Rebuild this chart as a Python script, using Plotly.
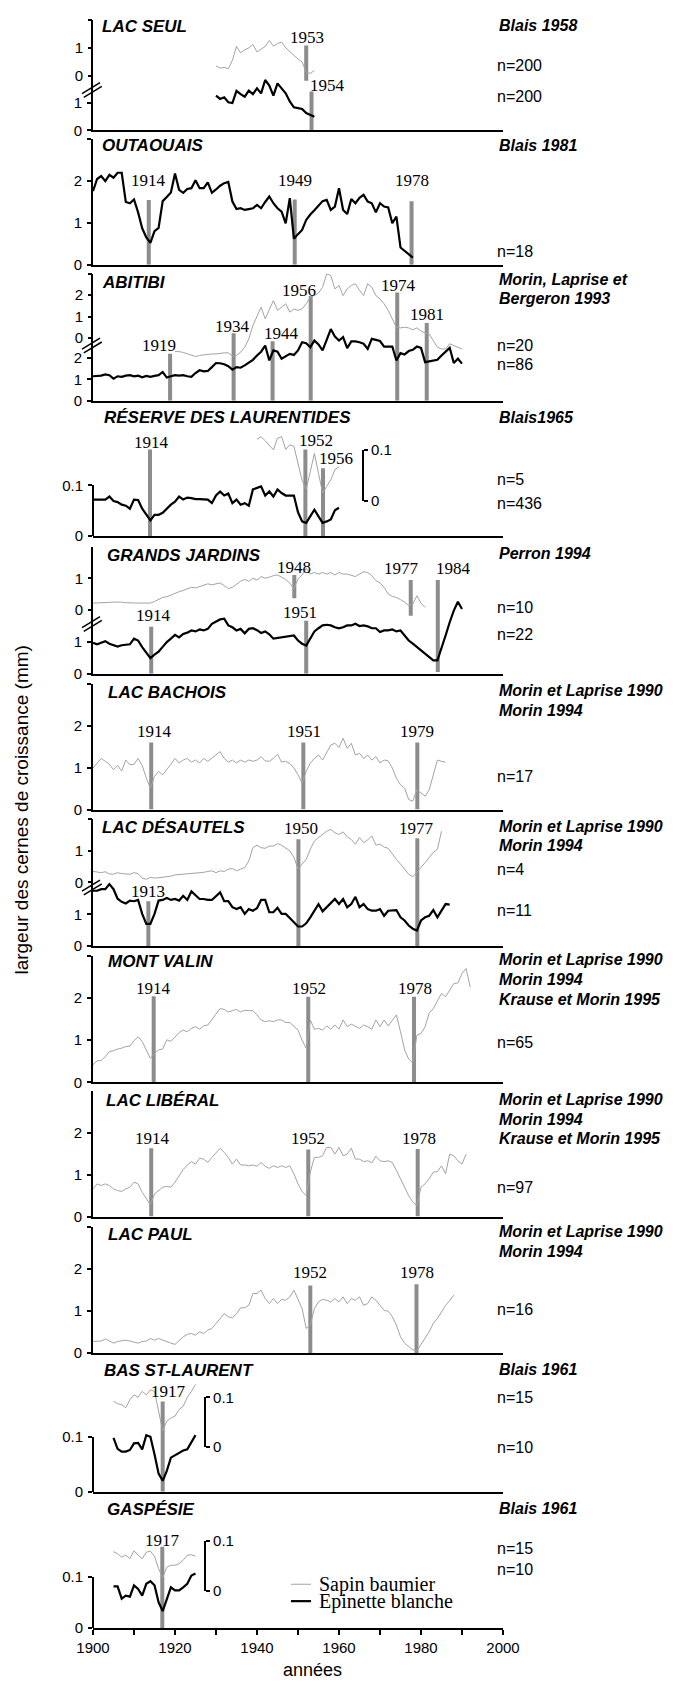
import plotly.graph_objects as go

# ------------------------------------------------------------------ data
seul_years = list(range(1930, 1955))
seul_sapin = [0.35, 0.27, 0.30, 0.25, 0.55, 1.05, 0.82, 0.93, 1.00, 1.12, 0.85, 0.95, 1.05, 1.26, 1.06,
              1.15, 1.21, 1.00, 0.85, 0.73, 0.60, 0.49, 0.13, 0.08, 0.19]
seul_epinette = [1.25, 1.13, 1.19, 1.01, 0.98, 1.42, 1.30, 1.21, 1.43, 1.30, 1.51, 1.33, 1.81, 1.61, 1.25,
                 1.69, 1.51, 1.33, 1.04, 0.83, 0.80, 0.77, 0.62, 0.55, 0.49]

outaouais_years = list(range(1900, 1979))
outaouais_epinette = [1.76, 2.05, 2.12, 2.00, 2.15, 2.08, 2.20, 2.20, 1.50, 1.47,
                      1.56, 1.25, 0.87, 0.65, 0.52, 0.80, 0.88, 1.52, 1.62, 1.73,
                      2.18, 1.79, 1.72, 1.81, 1.83, 2.02, 1.83, 1.83, 1.97, 1.72,
                      1.80, 1.89, 1.95, 1.98, 1.51, 1.33, 1.35, 1.31, 1.33, 1.35,
                      1.43, 1.35, 1.50, 1.63, 1.47, 1.35, 1.27, 0.99, 1.59, 0.62,
                      0.73, 0.83, 1.07, 1.20, 1.30, 1.40, 1.52, 1.55, 1.31, 1.39,
                      1.83, 1.31, 1.21, 1.57, 1.47, 1.60, 1.67, 1.51, 1.47, 1.25,
                      1.47, 1.39, 1.37, 0.99, 1.15, 0.41, 0.33, 0.24, 0.17]

abitibi_sapin_years = list(range(1920, 1991))
abitibi_sapin = [-0.62, -0.62, -0.66, -0.72, -0.76, -0.85, -0.80, -0.77, -0.75, -0.73,
                 -0.73, -0.70, -0.68, -0.68, -0.82, -0.80, -0.65, -0.42, -0.03, 0.59,
                 0.98, 1.44, 0.90, 1.29, 1.75, 1.29, 1.44, 1.60, 1.21, 1.36,
                 1.29, 1.36, 1.60, 1.91, 1.98, 2.10, 2.37, 2.99, 2.91, 2.29,
                 2.45, 1.98, 2.29, 2.45, 2.53, 2.22, 1.98, 2.53, 2.37, 1.98,
                 1.83, 1.60, 1.29, 0.90, 0.51, 0.48, 0.51, 0.48, 0.39, 0.48,
                 0.33, 0.25, 0.20, -0.11, -0.42, -0.50, -0.50, -0.26, -0.34, -0.45, -0.50]
abitibi_epinette_years = list(range(1900, 1991))
abitibi_epinette = [1.15, 1.15, 1.18, 1.24, 1.20, 1.04, 1.15, 1.12, 1.18, 1.20,
                    1.15, 1.18, 1.10, 1.17, 1.12, 1.17, 1.20, 1.35, 1.09, 1.15,
                    1.20, 1.18, 1.20, 1.15, 1.12, 1.30, 1.43, 1.38, 1.40, 1.58,
                    1.77, 1.76, 1.71, 1.62, 1.46, 1.58, 1.55, 1.66, 1.77, 1.92,
                    2.12, 2.30, 2.59, 1.89, 2.36, 2.30, 1.97, 2.10, 2.20, 2.15,
                    2.36, 2.74, 2.70, 2.51, 2.82, 2.64, 2.36, 2.85, 3.36, 3.01,
                    2.82, 2.98, 2.47, 2.78, 2.78, 2.74, 2.67, 2.43, 2.90, 2.85,
                    2.80, 2.54, 2.54, 2.54, 1.89, 2.23, 2.17, 2.33, 2.39, 2.54,
                    2.48, 1.81, 1.85, 1.89, 1.92, 2.12, 2.30, 2.48, 1.77, 1.97, 1.74]

reserve_sapin_years = list(range(1940, 1961))
reserve_sapin = [0.121, 0.126, 0.118, 0.110, 0.100, 0.123, 0.126, 0.101, 0.110, 0.107,
                 0.074, 0.040, 0.022, 0.060, 0.093, 0.054, 0.015, 0.028, 0.041, 0.061, 0.067]
reserve_epinette_years = list(range(1900, 1961))
reserve_epinette = [0.072, 0.072, 0.072, 0.072, 0.078, 0.069, 0.067, 0.062, 0.060, 0.054,
                    0.072, 0.071, 0.054, 0.042, 0.031, 0.042, 0.042, 0.046, 0.055, 0.062,
                    0.068, 0.078, 0.072, 0.076, 0.075, 0.073, 0.073, 0.073, 0.072, 0.065,
                    0.080, 0.088, 0.080, 0.084, 0.065, 0.072, 0.062, 0.065, 0.060, 0.092,
                    0.095, 0.098, 0.080, 0.088, 0.078, 0.092, 0.085, 0.080, 0.080, 0.080,
                    0.047, 0.029, 0.026, 0.040, 0.052, 0.039, 0.026, 0.029, 0.033, 0.051, 0.056]

jardins_sapin_years = list(range(1900, 1982))
jardins_sapin = [0.22, 0.22, 0.22, 0.23, 0.24, 0.25, 0.26, 0.25, 0.23, 0.22,
                 0.22, 0.22, 0.22, 0.22, 0.22, 0.27, 0.33, 0.40, 0.42, 0.48,
                 0.53, 0.58, 0.62, 0.66, 0.72, 0.70, 0.75, 0.80, 0.83, 0.80,
                 0.83, 0.86, 0.77, 0.68, 0.72, 0.83, 0.91, 0.97, 0.91, 1.01,
                 0.95, 1.06, 1.01, 1.04, 1.09, 1.11, 1.04, 0.97, 0.85, 0.68,
                 0.98, 1.11, 1.32, 1.14, 1.19, 1.14, 1.19, 1.14, 1.19, 1.11,
                 1.19, 1.14, 1.14, 1.11, 1.06, 1.14, 1.21, 1.19, 1.09, 0.93,
                 0.86, 0.72, 0.51, 0.43, 0.40, 0.33, 0.25, 0.14, 0.19, 0.45,
                 0.22, 0.08]
jardins_epinette_years = list(range(1900, 1991))
jardins_epinette = [0.98, 0.93, 0.98, 1.03, 0.95, 0.90, 0.86, 0.90, 0.92, 0.93,
                    1.11, 1.05, 0.84, 0.68, 0.49, 0.60, 0.70, 0.85, 1.00, 1.11,
                    1.23, 1.15, 1.26, 1.30, 1.37, 1.34, 1.40, 1.37, 1.42, 1.58,
                    1.65, 1.72, 1.74, 1.53, 1.47, 1.37, 1.42, 1.28, 1.42, 1.44,
                    1.38, 1.29, 1.34, 1.25, 1.11, 1.13, 1.16, 1.16, 1.18, 1.21,
                    1.05, 0.95, 0.89, 1.10, 1.34, 1.44, 1.53, 1.55, 1.53, 1.47,
                    1.44, 1.47, 1.53, 1.53, 1.58, 1.51, 1.53, 1.50, 1.44, 1.44,
                    1.32, 1.37, 1.37, 1.40, 1.34, 1.37, 1.20, 1.05, 0.95, 0.85,
                    0.74, 0.62, 0.53, 0.42, 0.42, 0.79, 1.21, 1.63, 2.00, 2.28, 2.05]

bachois_years = list(range(1900, 1987))
bachois_sapin = [0.99, 1.11, 1.22, 1.15, 1.08, 0.95, 1.05, 0.92, 1.18, 1.07,
                 1.08, 1.22, 1.05, 0.75, 0.51, 0.79, 0.91, 0.83, 0.95, 1.08,
                 1.22, 1.11, 1.18, 1.22, 1.13, 1.18, 1.11, 1.22, 1.15, 1.22,
                 1.30, 1.38, 1.22, 1.13, 1.18, 1.11, 1.18, 1.13, 1.18, 1.15,
                 1.18, 1.26, 1.16, 1.15, 1.22, 1.32, 1.13, 1.15, 1.10, 0.99,
                 0.83, 0.63, 0.91, 1.11, 1.22, 1.30, 1.18, 1.38, 1.54, 1.58,
                 1.48, 1.70, 1.46, 1.58, 1.30, 1.34, 1.22, 1.30, 1.18, 1.26,
                 1.11, 1.18, 1.16, 0.99, 0.75, 0.59, 0.51, 0.24, 0.20, 0.47,
                 0.40, 0.32, 0.47, 0.83, 1.18, 1.15, 1.13]

desautels_sapin_years = list(range(1900, 1986))
desautels_sapin = [0.35, 0.33, 0.31, 0.34, 0.27, 0.26, 0.31, 0.28, 0.26, 0.26,
                   0.31, 0.28, 0.14, 0.10, 0.16, 0.14, 0.15, 0.16, 0.17, 0.20,
                   0.24, 0.25, 0.26, 0.28, 0.30, 0.31, 0.30, 0.32, 0.35, 0.37,
                   0.31, 0.37, 0.35, 0.42, 0.44, 0.37, 0.42, 0.47, 0.68, 1.10,
                   1.18, 1.10, 1.08, 1.15, 1.15, 1.23, 1.18, 1.10, 1.00, 0.80,
                   0.42, 0.58, 0.73, 1.05, 1.31, 1.42, 1.52, 1.62, 1.68, 1.57,
                   1.52, 1.60, 1.44, 1.36, 1.21, 1.42, 1.26, 1.35, 1.47, 1.18,
                   1.21, 1.12, 1.08, 0.89, 0.73, 0.58, 0.42, 0.26, 0.18, 0.31,
                   0.47, 0.63, 0.79, 0.95, 1.05, 1.62]
desautels_epinette_years = list(range(1900, 1988))
desautels_epinette = [1.75, 1.75, 1.80, 1.80, 1.96, 1.80, 1.50, 1.40, 1.35, 1.44,
                      1.42, 1.46, 1.02, 0.70, 0.70, 1.02, 1.44, 1.46, 1.52, 1.46,
                      1.49, 1.44, 1.59, 1.46, 1.73, 1.62, 1.49, 1.49, 1.46, 1.46,
                      1.59, 1.70, 1.42, 1.42, 1.23, 1.17, 1.23, 1.02, 1.17, 1.12,
                      1.20, 1.46, 1.46, 1.07, 1.07, 1.21, 1.02, 1.02, 0.89, 0.75,
                      0.62, 0.62, 0.72, 0.91, 1.12, 1.33, 1.10, 1.23, 1.38, 1.49,
                      1.33, 1.49, 1.23, 1.33, 1.56, 1.23, 1.33, 1.17, 1.12, 1.12,
                      1.17, 0.96, 1.12, 1.12, 1.14, 0.91, 0.81, 0.65, 0.55, 0.49,
                      0.81, 0.91, 0.96, 1.14, 0.91, 1.12, 1.33, 1.31]

valin_years = list(range(1900, 1993))
valin_sapin = [0.42, 0.51, 0.52, 0.61, 0.73, 0.75, 0.79, 0.81, 0.85, 0.86,
               0.99, 1.08, 0.97, 0.77, 0.57, 0.69, 0.77, 0.79, 1.01, 0.97,
               1.08, 1.18, 1.24, 1.20, 1.28, 1.32, 1.26, 1.34, 1.36, 1.49,
               1.62, 1.75, 1.73, 1.67, 1.70, 1.73, 1.67, 1.71, 1.70, 1.70,
               1.60, 1.48, 1.44, 1.46, 1.44, 1.48, 1.48, 1.42, 1.42, 1.32,
               1.24, 1.00, 0.81, 1.48, 1.26, 1.28, 1.24, 1.34, 1.26, 1.36,
               1.26, 1.48, 1.32, 1.38, 1.32, 1.28, 1.36, 1.32, 1.26, 1.48,
               1.32, 1.48, 1.34, 1.48, 1.60, 1.20, 0.77, 0.55, 0.46, 1.12,
               1.16, 1.32, 1.64, 1.75, 1.95, 2.11, 2.03, 2.19, 2.34, 2.36, 2.58, 2.70, 2.26]

liberal_years = list(range(1900, 1992))
liberal_sapin = [0.66, 0.78, 0.74, 0.78, 0.74, 0.66, 0.62, 0.60, 0.66, 0.70,
                 0.82, 0.78, 0.58, 0.42, 0.28, 0.54, 0.62, 0.70, 0.72, 0.70,
                 0.82, 0.98, 1.12, 1.23, 1.31, 1.25, 1.39, 1.37, 1.29, 1.41,
                 1.53, 1.63, 1.53, 1.41, 1.25, 1.37, 1.23, 1.23, 1.21, 1.23,
                 1.20, 1.29, 1.20, 1.15, 1.21, 1.17, 1.21, 1.17, 1.21, 1.02,
                 0.78, 0.60, 0.50, 1.06, 1.41, 1.41, 1.45, 1.65, 1.65, 1.49,
                 1.65, 1.45, 1.49, 1.63, 1.37, 1.37, 1.31, 1.33, 1.28, 1.44,
                 1.33, 1.31, 1.33, 1.29, 1.10, 0.90, 0.74, 0.50, 0.35, 0.26,
                 0.70, 0.78, 0.90, 1.06, 1.07, 1.21, 1.02, 1.49, 1.45, 1.33, 1.25, 1.49]

paul_years = list(range(1900, 1989))
paul_sapin = [0.28, 0.29, 0.29, 0.34, 0.28, 0.24, 0.28, 0.29, 0.31, 0.29,
              0.26, 0.24, 0.28, 0.29, 0.35, 0.31, 0.35, 0.31, 0.28, 0.24,
              0.21, 0.31, 0.39, 0.45, 0.47, 0.43, 0.51, 0.47, 0.55, 0.59,
              0.71, 0.83, 0.94, 0.87, 0.84, 0.94, 1.08, 1.08, 1.14, 1.42,
              1.42, 1.50, 1.30, 1.18, 1.30, 1.18, 1.28, 1.26, 1.34, 1.50,
              1.30, 1.06, 0.59, 0.67, 1.06, 1.22, 1.28, 1.26, 1.22, 1.30,
              1.22, 1.34, 1.18, 1.30, 1.26, 1.34, 1.14, 1.18, 1.34, 1.26,
              1.14, 1.02, 1.00, 0.87, 0.67, 0.39, 0.24, 0.15, 0.08, 0.06,
              0.20, 0.35, 0.51, 0.71, 0.83, 0.98, 1.14, 1.25, 1.38]

bsl_years = list(range(1905, 1926))
bsl_sapin = [0.092, 0.087, 0.085, 0.079, 0.095, 0.105, 0.100, 0.112, 0.105, 0.115,
             0.112, 0.070, 0.032, 0.052, 0.058, 0.062, 0.075, 0.082, 0.100, 0.112, 0.126]
bsl_epinette = [0.098, 0.078, 0.073, 0.073, 0.076, 0.088, 0.089, 0.077, 0.103, 0.100,
                0.068, 0.033, 0.020, 0.038, 0.062, 0.066, 0.070, 0.075, 0.077, 0.089, 0.103]

gaspesie_years = list(range(1905, 1926))
gaspesie_sapin = [0.079, 0.075, 0.068, 0.072, 0.065, 0.081, 0.072, 0.065, 0.078, 0.080,
                  0.070, 0.045, 0.027, 0.048, 0.052, 0.052, 0.055, 0.062, 0.072, 0.073, 0.070]
gaspesie_epinette = [0.081, 0.081, 0.057, 0.063, 0.061, 0.083, 0.076, 0.063, 0.086, 0.091,
                     0.083, 0.050, 0.033, 0.054, 0.079, 0.073, 0.073, 0.079, 0.086, 0.102, 0.106]

# outbreak bars: label, year drawn, bottom, top (panel scale)
seul_ev = (["1953", "1954"], [1952.0, 1953.3], [1.78, 0.0], [3.05, 1.40])
outaouais_ev = (["1914", "1949", "1978"], [1913.6, 1949.2, 1977.7], [0, 0, 0], [1.55, 1.56, 1.52])
abitibi_ev = (["1919", "1934", "1944", "1956", "1974", "1981"],
              [1918.8, 1934.3, 1943.8, 1953.1, 1974.2, 1981.4],
              [0, 0, 0, 0, 0, 0], [2.20, 3.16, 2.79, 4.91, 5.07, 3.64])
reserve_ev = (["1914", "1952", "1956"], [1913.9, 1951.8, 1956.1], [0, 0, 0], [0.171, 0.171, 0.134])
jardins_ev = (["1914", "1948", "1951", "1977", "1984"], [1914.2, 1949.1, 1952.0, 1977.5, 1984.1],
              [0, 2.39, 0, 1.84, 0.05], [1.49, 3.13, 1.68, 2.97, 2.97])
bachois_ev = (["1914", "1951", "1979"], [1914.2, 1951.3, 1979.1], [0, 0, 0], [1.60, 1.60, 1.60])
desautels_ev = (["1913", "1950", "1977"], [1913.5, 1950.1, 1979.1], [0, 0, 0], [1.42, 3.38, 3.41])
valin_ev = (["1914", "1952", "1978"], [1914.8, 1952.5, 1978.3], [0, 0, 0], [2.04, 2.03, 2.03])
liberal_ev = (["1914", "1952", "1978"], [1914.2, 1952.5, 1979.2], [0, 0, 0], [1.63, 1.60, 1.61])
paul_ev = (["1952", "1978"], [1953.0, 1978.9], [0, 0], [1.61, 1.64])
bsl_ev = (["1917"], [1917.0], [0], [0.164])
gaspesie_ev = (["1917"], [1916.9], [0], [0.158])

# ------------------------------------------------------------------ panels
panels = [
    dict(title="LAC SEUL", sapin=(seul_years, seul_sapin), epinette=(seul_years, seul_epinette), ev=seul_ev,
         notes=[("Blais 1958", True), ("n=200", False), ("n=200", False)]),
    dict(title="OUTAOUAIS", sapin=None, epinette=(outaouais_years, outaouais_epinette), ev=outaouais_ev,
         notes=[("Blais 1981", True), ("n=18", False)]),
    dict(title="ABITIBI", sapin=(abitibi_sapin_years, abitibi_sapin),
         epinette=(abitibi_epinette_years, abitibi_epinette), ev=abitibi_ev,
         notes=[("Morin, Laprise et", True), ("Bergeron 1993", True), ("n=20", False), ("n=86", False)]),
    dict(title="RÉSERVE DES LAURENTIDES", sapin=(reserve_sapin_years, reserve_sapin),
         epinette=(reserve_epinette_years, reserve_epinette), ev=reserve_ev,
         notes=[("Blais1965", True), ("n=5", False), ("n=436", False)]),
    dict(title="GRANDS JARDINS", sapin=(jardins_sapin_years, jardins_sapin),
         epinette=(jardins_epinette_years, jardins_epinette), ev=jardins_ev,
         notes=[("Perron 1994", True), ("n=10", False), ("n=22", False)]),
    dict(title="LAC BACHOIS", sapin=(bachois_years, bachois_sapin), epinette=None, ev=bachois_ev,
         notes=[("Morin et Laprise 1990", True), ("Morin 1994", True), ("n=17", False)]),
    dict(title="LAC DÉSAUTELS", sapin=(desautels_sapin_years, desautels_sapin),
         epinette=(desautels_epinette_years, desautels_epinette), ev=desautels_ev,
         notes=[("Morin et Laprise 1990", True), ("Morin 1994", True), ("n=4", False), ("n=11", False)]),
    dict(title="MONT VALIN", sapin=(valin_years, valin_sapin), epinette=None, ev=valin_ev,
         notes=[("Morin et Laprise 1990", True), ("Morin 1994", True), ("Krause et Morin 1995", True),
                ("n=65", False)]),
    dict(title="LAC LIBÉRAL", sapin=(liberal_years, liberal_sapin), epinette=None, ev=liberal_ev,
         notes=[("Morin et Laprise 1990", True), ("Morin 1994", True), ("Krause et Morin 1995", True),
                ("n=97", False)]),
    dict(title="LAC PAUL", sapin=(paul_years, paul_sapin), epinette=None, ev=paul_ev,
         notes=[("Morin et Laprise 1990", True), ("Morin 1994", True), ("n=16", False)]),
    dict(title="BAS ST-LAURENT", sapin=(bsl_years, bsl_sapin), epinette=(bsl_years, bsl_epinette), ev=bsl_ev,
         notes=[("Blais 1961", True), ("n=15", False), ("n=10", False)]),
    dict(title="GASPÉSIE", sapin=(gaspesie_years, gaspesie_sapin),
         epinette=(gaspesie_years, gaspesie_epinette), ev=gaspesie_ev,
         notes=[("Blais 1961", True), ("n=15", False), ("n=10", False)]),
]

# ------------------------------------------------------------------ layout geometry (page pixels)
W, H = 677, 1682
L_PX, R_PX = 93, 503          # plot area
T_PX, B_PX = 10, 1628

S3 = [0, 1, 2, 3]
T3 = ["0", "1", "2", ""]
geometry = [
    dict(kind="split", top=11, bottom=122, ppu=28, s_zero=67, s_ppu=28, ticks=[0, 1], tt=["0", "1"],
         s_ticks=[0, 1, 2], s_tt=["0", "1", ""], brk=81, title=(100, 18),
         note_y=[17, 57, 88], lab=[(1952.2, 3.35), (1957.1, 1.62)]),
    dict(kind="single", top=131, bottom=257, ppu=42, ticks=S3, tt=T3, title=(100, 137),
         note_y=[137, 244], lab=[(1913.5, 2.02), (1949.3, 2.02), (1977.8, 2.02)]),
    dict(kind="split", top=266, bottom=394, ppu=21.5, s_zero=331, s_ppu=21.65, ticks=[0, 1, 2],
         tt=["0", "1", "2"], s_ticks=S3, s_tt=T3, brk=338, title=(100, 275),
         note_y=[272, 291, 338, 357],
         lab=[(1916.0, 2.59), (1934.1, 3.47), (1945.9, 3.13), (1950.3, 5.18), (1974.4, 5.38), (1981.5, 4.03)]),
    dict(kind="small", top=402, bottom=530, ppu=510, s_zero=494.3, s_ppu=510, bracket=1965.9,
         title=(102, 411), note_y=[411, 473, 497],
         lab=[(1914.2, 0.184), (1954.3, 0.188), (1959.2, 0.153)]),
    dict(kind="split", top=541, bottom=668.3, ppu=31.7, s_zero=604.3, s_ppu=31.7, ticks=[0, 1],
         tt=["0", "1"], s_ticks=[0, 1, 2], s_tt=["0", "1", ""], brk=618, title=(105, 550),
         note_y=[547, 602, 629],
         lab=[(1914.8, 1.84), (1949.0, 3.37), (1950.6, 1.95), (1975.2, 3.32), (1987.9, 3.32)]),
    dict(kind="single", top=678.4, bottom=805, ppu=42.2, ticks=S3, tt=T3, title=(106, 687),
         note_y=[685, 705, 772], lab=[(1915.0, 1.86), (1951.5, 1.86), (1979.1, 1.86)]),
    dict(kind="split", top=814.7, bottom=942.3, ppu=31.8, s_zero=878.3, s_ppu=31.8, ticks=[0, 1],
         tt=["0", "1"], s_ticks=[0, 1, 2], s_tt=["0", "1", ""], brk=883, title=(100, 823),
         note_y=[822, 841, 865, 906], lab=[(1913.5, 1.73), (1950.8, 3.72), (1978.9, 3.72)]),
    dict(kind="single", top=952.1, bottom=1079.3, ppu=42.4, ticks=S3, tt=T3, title=(106, 958),
         note_y=[956, 976, 996, 1039], lab=[(1914.8, 2.22), (1952.7, 2.22), (1978.6, 2.22)]),
    dict(kind="single", top=1087.8, bottom=1214.3, ppu=42.2, ticks=S3, tt=T3, title=(104, 1098),
         note_y=[1097, 1117, 1136, 1185], lab=[(1914.5, 1.87), (1952.4, 1.87), (1979.4, 1.87)]),
    dict(kind="single", top=1224.8, bottom=1351.7, ppu=42.3, ticks=S3, tt=T3, title=(106, 1232),
         note_y=[1229, 1249, 1308], lab=[(1953.0, 1.91), (1979.1, 1.91)]),
    dict(kind="small", top=1360, bottom=1491, ppu=553, s_zero=1445.7, s_ppu=497, bracket=1927.4,
         title=(102, 1369), note_y=[1368, 1396, 1446], lab=[(1918.5, 0.182)]),
    dict(kind="small", top=1500, bottom=1628, ppu=517, s_zero=1591, s_ppu=503, bracket=1927.4,
         title=(105, 1509), note_y=[1508, 1548, 1569], lab=[(1917.0, 0.170)]),
]

SANS = "Liberation Sans, Arial, sans-serif"
SERIF = "Liberation Serif, Times New Roman, serif"
SAPIN_C = "#a3a3a3"
EPI_C = "#000000"
BAR_C = "#8c8c8c"
TICK_FONT = dict(family=SANS, size=15, color="black")


def px_x(px):
    return (px - L_PX) / (R_PX - L_PX)


def px_y(py):
    return (B_PX - py) / (B_PX - T_PX)


def ref(k, letter):
    return letter + ("" if k == 1 else str(k))


def axkey(k, letter):
    return letter + "axis" + ("" if k == 1 else str(k))


fig = go.Figure()
lay = {}
annotations = []
shapes = []
next_y = [len(panels) + 1]


def new_y():
    k = next_y[0]
    next_y[0] += 1
    return k


n_pan = len(panels)
for i, (p, g) in enumerate(zip(panels, geometry)):
    k = i + 1
    xr, yr = ref(k, "x"), ref(k, "y")
    top, bottom, ppu = g["top"], g["bottom"], g["ppu"]
    dom = [px_y(bottom), px_y(top)]

    # x axis of the panel
    xa = dict(domain=[0, 1], range=[1900, 2000], anchor=yr, showline=True, linewidth=2,
              linecolor="black", showgrid=False, zeroline=False, fixedrange=True)
    if k == n_pan:
        xa.update(ticks="outside", ticklen=5, tickwidth=1.5, tickcolor="black",
                  tickvals=list(range(1900, 2001, 10)),
                  ticktext=[str(v) if v % 20 == 0 else "" for v in range(1900, 2001, 10)],
                  tickfont=TICK_FONT)
    else:
        xa.update(showticklabels=False, ticks="")
    lay[axkey(k, "x")] = xa

    # main y axis
    ya = dict(domain=dom, range=[0, (bottom - top) / ppu], anchor=xr, showgrid=False,
              zeroline=False, fixedrange=True)
    if g["kind"] == "small":
        ya.update(visible=False)
    else:
        ya.update(showline=True, linewidth=2, linecolor="black", ticks="outside", ticklen=4,
                  tickwidth=1.5, tickcolor="black", tickvals=g["ticks"], ticktext=g["tt"],
                  tickfont=TICK_FONT, ticklabelstandoff=2)
    lay[axkey(k, "y")] = ya

    sapin_ref = yr
    if g["kind"] in ("split", "small"):
        s = new_y()
        sapin_ref = ref(s, "y")
        sa = dict(overlaying=yr, anchor=xr, side="left", showgrid=False, zeroline=False,
                  range=[-(bottom - g["s_zero"]) / g["s_ppu"], (g["s_zero"] - top) / g["s_ppu"]],
                  showline=False, fixedrange=True)
        if g["kind"] == "split":
            sa.update(ticks="outside", ticklen=4, tickwidth=1.5, tickcolor="black",
                      tickvals=g["s_ticks"], ticktext=g["s_tt"], tickfont=TICK_FONT,
                      ticklabelstandoff=2)
        else:
            sa.update(ticks="", showticklabels=False)
        lay[axkey(s, "y")] = sa

    if g["kind"] == "small":
        # short left scale 0 - 0.1
        d = new_y()
        lay[axkey(d, "y")] = dict(domain=[px_y(bottom), px_y(bottom - 0.1 * ppu)], range=[0, 0.1],
                                  anchor="free", position=0, side="left", showline=True, linewidth=2,
                                  linecolor="black", ticks="outside", ticklen=4, tickwidth=1.5,
                                  tickcolor="black", tickvals=[0, 0.1], ticktext=["0", "0.1"],
                                  tickfont=TICK_FONT, ticklabelstandoff=2, showgrid=False,
                                  zeroline=False, fixedrange=True)
        fig.add_trace(go.Scatter(x=[None], y=[None], xaxis=xr, yaxis=ref(d, "y"), showlegend=False,
                                 hoverinfo="skip"))
        # bracket scale for the sapin series
        b = new_y()
        lay[axkey(b, "y")] = dict(domain=[px_y(g["s_zero"]), px_y(g["s_zero"] - 0.1 * g["s_ppu"])],
                                  range=[0, 0.1], anchor="free", position=(g["bracket"] - 1900) / 100,
                                  side="right", showline=True, linewidth=1.5, linecolor="black",
                                  ticks="outside", ticklen=4, tickwidth=1.5, tickcolor="black",
                                  tickvals=[0, 0.1], ticktext=["0", "0.1"], tickfont=TICK_FONT,
                                  showgrid=False, zeroline=False, fixedrange=True)
        fig.add_trace(go.Scatter(x=[None], y=[None], xaxis=xr, yaxis=ref(b, "y"), showlegend=False,
                                 hoverinfo="skip"))

    # outbreak bars
    labels, bx, blo, bhi = p["ev"]
    for lab, x0, lo, hi, (lx, ly) in zip(labels, bx, blo, bhi, g["lab"]):
        fig.add_trace(go.Scatter(x=[x0, x0], y=[lo, hi], mode="lines", xaxis=xr, yaxis=yr,
                                 line=dict(color=BAR_C, width=4), showlegend=False, hoverinfo="skip"))
        annotations.append(dict(x=lx, y=ly, xref=xr, yref=yr, text=lab, showarrow=False,
                                xanchor="center", yanchor="middle",
                                font=dict(family=SERIF, size=17, color="black")))

    # series
    if p["sapin"] is not None:
        fig.add_trace(go.Scatter(x=p["sapin"][0], y=p["sapin"][1], mode="lines", xaxis=xr,
                                 yaxis=sapin_ref, line=dict(color=SAPIN_C, width=1),
                                 name="Sapin baumier", showlegend=False))
    if p["epinette"] is not None:
        fig.add_trace(go.Scatter(x=p["epinette"][0], y=p["epinette"][1], mode="lines", xaxis=xr,
                                 yaxis=yr, line=dict(color=EPI_C, width=2.2),
                                 name="Epinette blanche", showlegend=False))

    # panel title
    tx, ty = g["title"]
    annotations.append(dict(x=px_x(tx), y=px_y(ty), xref="paper", yref="paper", showarrow=False,
                            text="<b><i>" + p["title"] + "</i></b>", xanchor="left", yanchor="middle",
                            font=dict(family=SANS, size=17, color="black")))
    # right-hand notes
    for (txt, bold), ny in zip(p["notes"], g["note_y"]):
        annotations.append(dict(x=px_x(497 if bold else 495), y=px_y(ny), xref="paper", yref="paper",
                                showarrow=False, xanchor="left", yanchor="middle",
                                text=("<b><i>" + txt + "</i></b>") if bold else txt,
                                font=dict(family=SANS, size=16, color="black")))
    # axis break marks
    if "brk" in g:
        yc = g["brk"]
        for dx, dy in ((0, 0), (1.8, 3.8)):
            shapes.append(dict(type="line", xref="paper", yref="paper",
                               x0=px_x(82 + dx), y0=px_y(yc + 4 + dy), x1=px_x(100 + dx), y1=px_y(yc - 7 + dy),
                               line=dict(color="black", width=1.5)))

# axis titles
annotations.append(dict(x=px_x(22), y=px_y(806), xref="paper", yref="paper", showarrow=False,
                        text="largeur des cernes de croissance (mm)", textangle=-90,
                        xanchor="center", yanchor="middle", font=dict(family=SANS, size=19, color="black")))
annotations.append(dict(x=px_x(312), y=px_y(1670), xref="paper", yref="paper", showarrow=False,
                        text="années", xanchor="center", yanchor="middle",
                        font=dict(family=SANS, size=18, color="black")))

# legend (drawn by hand to keep the tight spacing of the original)
for txt, col, wid, yy in (("Sapin baumier", SAPIN_C, 1, 1584), ("Epinette blanche", EPI_C, 2.2, 1601)):
    shapes.append(dict(type="line", xref="paper", yref="paper", x0=px_x(291), x1=px_x(311),
                       y0=px_y(yy), y1=px_y(yy), line=dict(color=col, width=wid)))
    annotations.append(dict(x=px_x(317), y=px_y(yy), xref="paper", yref="paper", showarrow=False,
                            text=txt, xanchor="left", yanchor="middle",
                            font=dict(family=SERIF, size=20, color="black")))

fig.update_layout(width=W, height=H,
                  margin=dict(l=L_PX, r=W - R_PX, t=T_PX, b=H - B_PX),
                  paper_bgcolor="white", plot_bgcolor="rgba(0,0,0,0)", showlegend=False,
                  annotations=annotations, shapes=shapes, **lay)

# remove the browser's default 8px page margin so the figure fills the window exactly
fig.write_html("out.html", config={"displayModeBar": False},
               post_script="document.body.style.margin='0';")
